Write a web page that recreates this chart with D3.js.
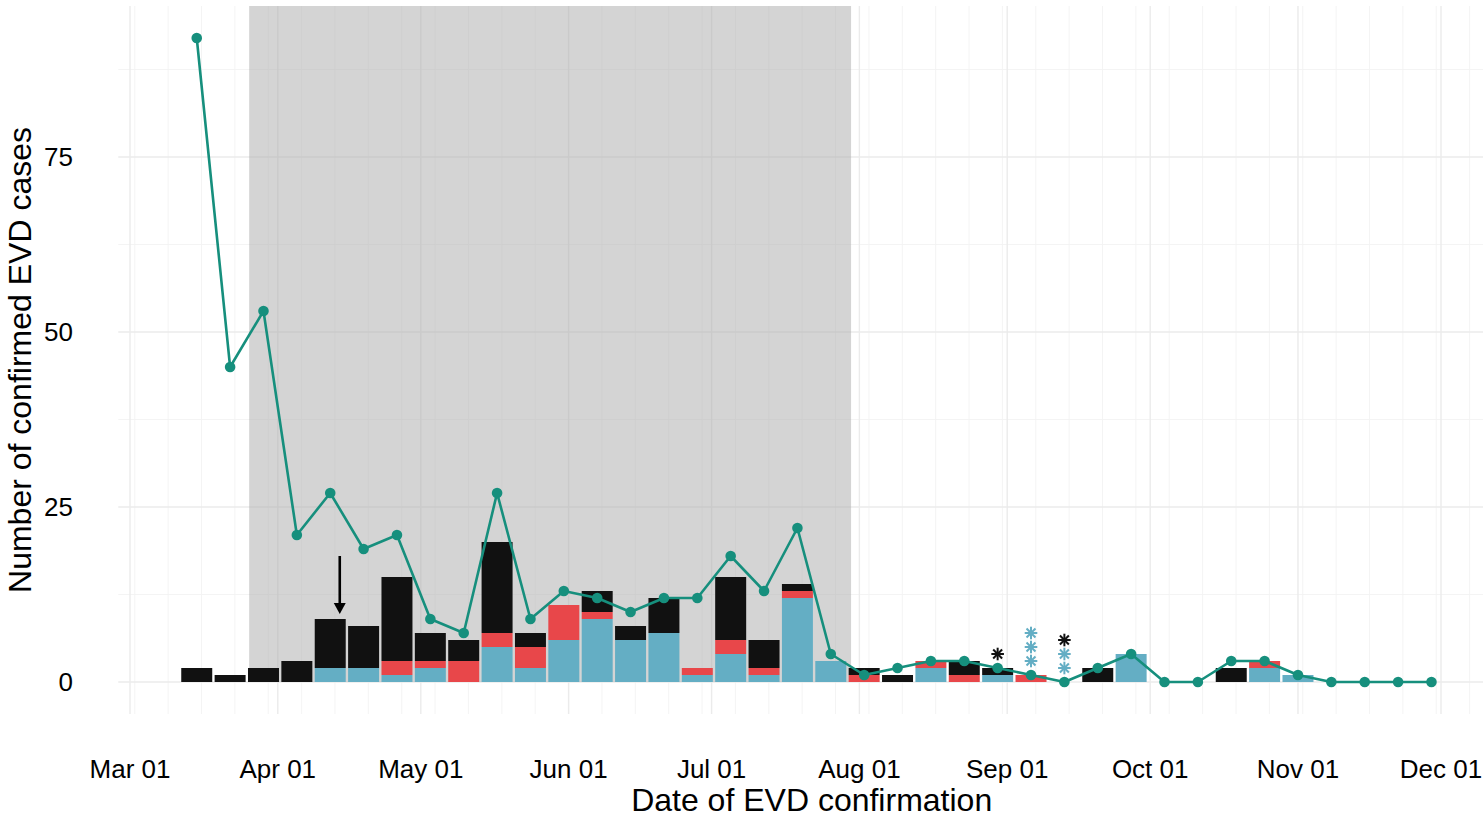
<!DOCTYPE html>
<html>
<head>
<meta charset="utf-8">
<script src="https://cdn.jsdelivr.net/npm/d3@7"></script>
<style>
html,body{margin:0;padding:0;background:#fff;}
svg{display:block;font-family:"Liberation Sans",Arial,Helvetica,sans-serif;}
</style>
</head>
<body>
<svg id="chart" width="1483" height="817"></svg>
<script>
// ---------- data ----------
const weeks = ["2015-03-15","2015-03-22","2015-03-29","2015-04-05","2015-04-12","2015-04-19","2015-04-26",
  "2015-05-03","2015-05-10","2015-05-17","2015-05-24","2015-05-31","2015-06-07","2015-06-14","2015-06-21",
  "2015-06-28","2015-07-05","2015-07-12","2015-07-19","2015-07-26","2015-08-02","2015-08-09","2015-08-16",
  "2015-08-23","2015-08-30","2015-09-06","2015-09-13","2015-09-20","2015-09-27","2015-10-04","2015-10-11",
  "2015-10-18","2015-10-25","2015-11-01","2015-11-08","2015-11-15","2015-11-22","2015-11-29"];
const lineValues = [92,45,53,21,27,19,21,9,7,27,9,13,12,10,12,12,18,13,22,4,1,2,3,3,2,1,0,2,4,0,0,3,3,1,0,0,0,0];
const blueValues  = [0,0,0,0,2,2,1,2,0,5,2,6,9,6,7,1,4,1,12,3,0,0,2,0,1,0,0,0,4,0,0,0,2,1,0,0,0,0];
const redValues   = [0,0,0,0,0,0,2,1,3,2,3,5,1,0,0,1,2,1,1,0,1,0,1,1,0,1,0,0,0,0,0,0,1,0,0,0,0,0];
const blackValues = [2,1,2,3,7,6,12,4,3,13,2,0,3,2,5,0,9,4,1,0,1,1,0,2,1,0,0,2,0,0,0,2,0,0,0,0,0,0];
const seriesNames = ["blue","red","black"];
const seriesColors = ["#64aec4","#e8474a","#111111"];
// asterisk markers: week, colour of each marker stacked upward
const asteriskWeeks = ["2015-08-30","2015-09-06","2015-09-13"];
const asteriskColors = [["#111111"],["#64aec4","#64aec4","#64aec4"],["#64aec4","#64aec4","#111111"]];
const shadeStart = "2015-03-26", shadeEnd = "2015-07-30T06:00";
const arrowDate = "2015-04-14", arrowFrom = 18, arrowTo = 9.7;
const monthTicks = ["2015-03-01","2015-04-01","2015-05-01","2015-06-01","2015-07-01","2015-08-01","2015-09-01","2015-10-01","2015-11-01","2015-12-01"];
const yTicks = [0,25,50,75];
const yMinor = [12.5,37.5,62.5,87.5];

// ---------- scales ----------
const P = s => new Date(s.length>10 ? s+"Z" : s+"T00:00:00Z");
const svg = d3.select("#chart");
const x = d3.scaleUtc().domain([P("2015-03-01"), P("2015-12-01")]).range([130,1441]);
const y = d3.scaleLinear().domain([0,75]).range([682,157]);
const panel = {left:118.3, right:1483, top:6, bottom:714};
const dayMs = 86400000;
const minorX = d3.utcMonday.range(x.invert(panel.left), x.invert(panel.right));

// ---------- grid ----------
const g = svg.append("g");
g.selectAll(".ymin").data(yMinor).join("line")
  .attr("x1",panel.left).attr("x2",panel.right).attr("y1",d=>y(d)).attr("y2",d=>y(d))
  .attr("stroke","#f3f3f3").attr("stroke-width",0.9);
g.selectAll(".xmin").data(minorX).join("line")
  .attr("x1",d=>x(d)).attr("x2",d=>x(d)).attr("y1",panel.top).attr("y2",panel.bottom)
  .attr("stroke","#f3f3f3").attr("stroke-width",0.9);
g.selectAll(".ymaj").data(yTicks).join("line")
  .attr("x1",panel.left).attr("x2",panel.right).attr("y1",d=>y(d)).attr("y2",d=>y(d))
  .attr("stroke","#ebebeb").attr("stroke-width",1.4);
g.selectAll(".xmaj").data(monthTicks.map(P)).join("line")
  .attr("x1",d=>x(d)).attr("x2",d=>x(d)).attr("y1",panel.top).attr("y2",panel.bottom)
  .attr("stroke","#ebebeb").attr("stroke-width",1.4);

// ---------- shaded period ----------
svg.append("rect")
  .attr("x",x(P(shadeStart))).attr("width",x(P(shadeEnd))-x(P(shadeStart)))
  .attr("y",panel.top).attr("height",y(0)-panel.top)
  .attr("fill","#a9a9a9").attr("fill-opacity",0.5);

// ---------- stacked bars ----------
const table = weeks.map((w,i)=>({date:P(w), blue:blueValues[i], red:redValues[i], black:blackValues[i]}));
const stack = d3.stack().keys(seriesNames)(table);
const halfW = 3.25*dayMs;
svg.append("g").selectAll("g").data(stack).join("g")
  .attr("fill",(d,i)=>seriesColors[i])
  .selectAll("rect").data(d=>d.filter(s=>s[1]>s[0])).join("rect")
  .attr("x",d=>x(new Date(+d.data.date-halfW)))
  .attr("width",d=>x(new Date(+d.data.date+halfW))-x(new Date(+d.data.date-halfW)))
  .attr("y",d=>y(d[1])).attr("height",d=>y(d[0])-y(d[1]));

// ---------- line ----------
const lineData = weeks.map((w,i)=>({date:P(w), v:lineValues[i]}));
svg.append("path").datum(lineData)
  .attr("d",d3.line().x(d=>x(d.date)).y(d=>y(d.v)))
  .attr("fill","none").attr("stroke","#168f7d").attr("stroke-width",2.6).attr("stroke-linejoin","round");
svg.append("g").selectAll("circle").data(lineData).join("circle")
  .attr("cx",d=>x(d.date)).attr("cy",d=>y(d.v)).attr("r",5.3).attr("fill","#168f7d");

// ---------- arrow ----------
const ax = x(P(arrowDate));
svg.append("line").attr("x1",ax).attr("x2",ax).attr("y1",y(arrowFrom)).attr("y2",y(arrowTo)-10)
  .attr("stroke","#000").attr("stroke-width",2.6);
svg.append("path")
  .attr("d",`M${ax-6},${y(arrowTo)-11} L${ax+6},${y(arrowTo)-11} L${ax},${y(arrowTo)} Z`)
  .attr("fill","#000");

// ---------- asterisks ----------
const totals = weeks.map((w,i)=>blueValues[i]+redValues[i]+blackValues[i]);
const astG = svg.append("g");
asteriskWeeks.forEach((w,j)=>{
  const i = weeks.indexOf(w);
  asteriskColors[j].forEach((c,k)=>{
    const cx = x(P(w)), cy = y(totals[i] + 2*(k+1));
    const r = 6.3;
    const gg = astG.append("g").attr("transform",`translate(${cx},${cy})`).attr("stroke",c).attr("stroke-width",2);
    [0,45,90,135].forEach(a=>{
      const rad = a*Math.PI/180;
      gg.append("line").attr("x1",-r*Math.cos(rad)).attr("y1",-r*Math.sin(rad))
        .attr("x2",r*Math.cos(rad)).attr("y2",r*Math.sin(rad));
    });
  });
});

// ---------- axes text ----------
svg.append("g").selectAll("text").data(yTicks).join("text")
  .attr("x",73).attr("y",d=>y(d)+9).attr("text-anchor","end")
  .attr("font-size",26).attr("fill","#000").text(d=>d);
svg.append("g").selectAll("text").data(monthTicks.map(P)).join("text")
  .attr("x",d=>x(d)).attr("y",778).attr("text-anchor","middle")
  .attr("font-size",26).attr("fill","#000").text(d=>d3.utcFormat("%b %d")(d));
svg.append("text").attr("x",(panel.left+panel.right)/2+11).attr("y",811)
  .attr("text-anchor","middle").attr("font-size",32).attr("fill","#000")
  .text("Date of EVD confirmation");
svg.append("text").attr("transform","translate(31,360) rotate(-90)")
  .attr("text-anchor","middle").attr("font-size",32).attr("fill","#000")
  .text("Number of confirmed EVD cases");
</script>
</body>
</html>
